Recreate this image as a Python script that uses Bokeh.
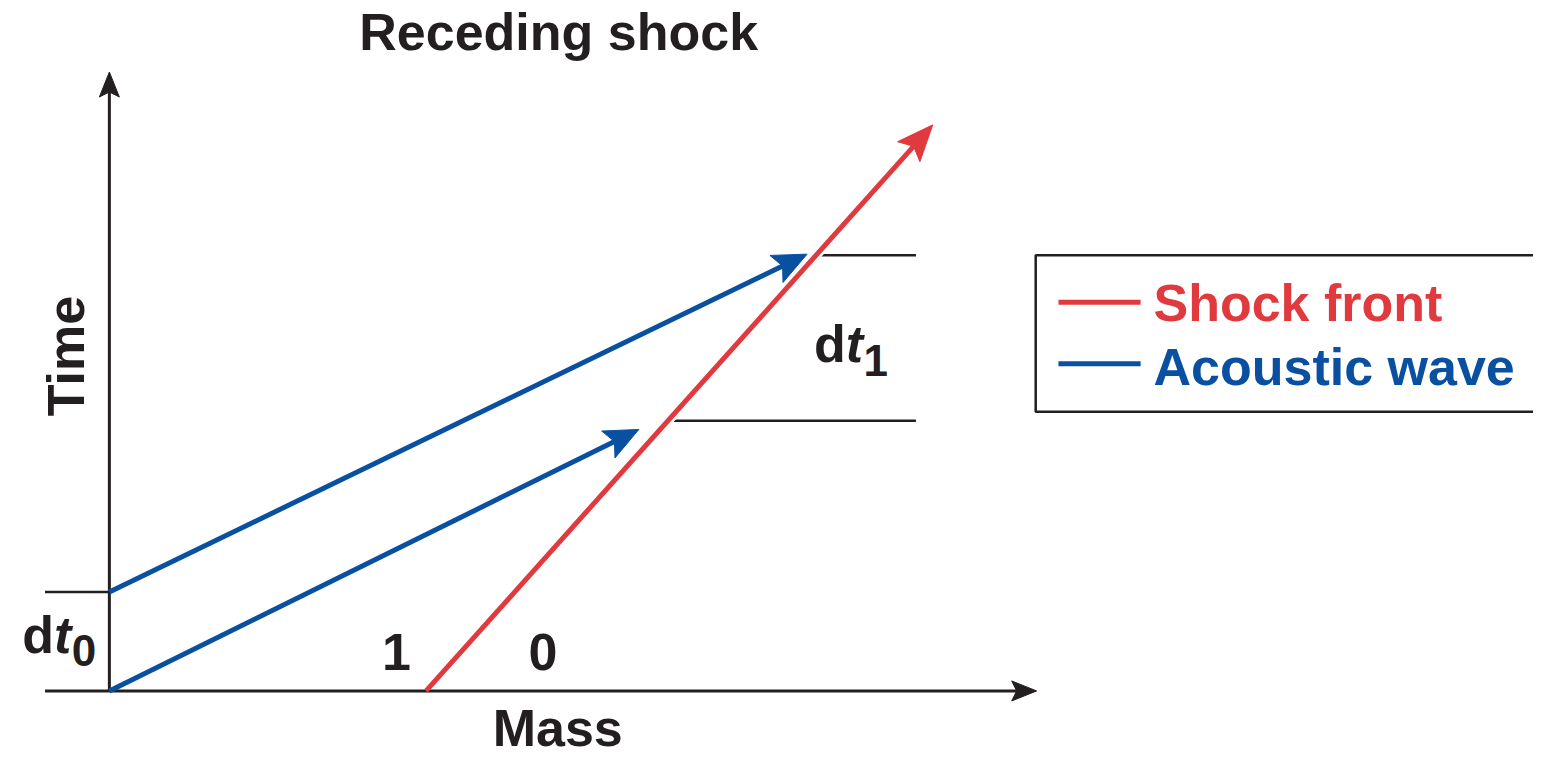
import math
from bokeh.plotting import figure
from bokeh.models import Range1d
from bokeh.core.properties import value
from bokeh.embed import file_html
from bokeh.resources import INLINE

# ---------------- data (schematic units: mass, time) ----------------
shock_mass = [3.20, 8.32]
shock_time = [0.00, 5.78]

wave_mass_start = [0.00, 0.00]
wave_time_start = [0.00, 1.01]
wave_mass_end = [5.35, 7.05]
wave_time_end = [2.67, 4.46]

dt0_time = 1.01
dt1_times = [2.76, 4.45]
dt1_mass_start = [5.64, 7.14]
dt1_mass_end = [8.15, 8.15]

axis_mass_min = -0.65
axis_mass_max = 9.37
axis_time_max = 6.32

region_labels = ["1", "0"]
region_mass = [2.90, 4.38]

series_names = ["Shock front", "Acoustic wave"]
series_colors = ["#e03a3f", "#0a50a0"]

INK = "#231f20"
FONT = value("Liberation Sans")

W, H = 1533, 758
X0, X1 = -1.10, 14.39
Y0, Y1 = -0.69, 7.05
SX = W / (X1 - X0)
SY = H / (Y1 - Y0)

p = figure(width=W, height=H,
           x_range=Range1d(X0, X1), y_range=Range1d(Y0, Y1),
           x_axis_type=None, y_axis_type=None,
           toolbar_location=None, output_backend="svg",
           min_border=0, outline_line_color=None)


def arrow_head(xt, yt, xe, ye, length, width, notch=0.8):
    """Return patch xs, ys of a notched arrow head at (xe, ye) and the notch point."""
    dx, dy = (xe - xt) * SX, (ye - yt) * SY
    n = math.hypot(dx, dy)
    ux, uy = dx / n, dy / n
    px, py = -uy, ux
    bx, by = -ux * length, -uy * length
    pts = [(0, 0),
           (bx + px * width / 2, by + py * width / 2),
           (-ux * length * notch, -uy * length * notch),
           (bx - px * width / 2, by - py * width / 2)]
    xs = [xe + a / SX for a, b in pts]
    ys = [ye + b / SY for a, b in pts]
    return xs, ys, xs[2], ys[2]


def draw_arrow(xt, yt, xe, ye, color, lw, length, width):
    hx, hy, nx, ny = arrow_head(xt, yt, xe, ye, length, width)
    p.line([xt, nx], [yt, ny], line_color=color, line_width=lw)
    p.patch(hx, hy, fill_color=color, line_color=color, line_width=1)
    return nx, ny


# ---- axes with arrows ----
draw_arrow(axis_mass_min, 0.0, axis_mass_max, 0.0, INK, 3, 25, 20)
draw_arrow(0.0, 0.0, 0.0, axis_time_max, INK, 3, 25, 20)

# ---- dt0 / dt1 reference lines ----
p.segment(x0=[axis_mass_min], y0=[dt0_time], x1=[0.0], y1=[dt0_time],
          line_color=INK, line_width=2.5)
p.segment(x0=dt1_mass_start, y0=dt1_times, x1=dt1_mass_end, y1=dt1_times,
          line_color=INK, line_width=2.5)

# ---- acoustic waves ----
for i in range(len(wave_mass_start)):
    draw_arrow(wave_mass_start[i], wave_time_start[i], wave_mass_end[i], wave_time_end[i],
               series_colors[1], 5, 34, 30)

# ---- shock front (white halo where it crosses the waves) ----
hx, hy, nx, ny = arrow_head(shock_mass[0], shock_time[0], shock_mass[1], shock_time[1], 36, 30)
f = 0.3
p.line([shock_mass[0] + f * (nx - shock_mass[0]), nx],
       [shock_time[0] + f * (ny - shock_time[0]), ny],
       line_color="white", line_width=10)
draw_arrow(shock_mass[0], shock_time[0], shock_mass[1], shock_time[1],
           series_colors[0], 5, 36, 30)

FS, FSS = 52, 44
OFF, OFFS = -round(0.37 * FS), -round(0.37 * FSS)
bold = dict(text_font=FONT, text_font_style="bold", text_color=INK)

# title
p.text(x=[4.54], y=[6.53], text=["Receding shock"], text_font_size=f"{FS}px",
       text_align="center", text_baseline="alphabetic", y_offset=OFF, **bold)
# axis labels
p.text(x=[4.53], y=[-0.575], text=["Mass"], text_font_size=f"{FS}px",
       text_align="center", text_baseline="alphabetic", y_offset=OFF, **bold)
p.text(x=[-0.25], y=[3.42], text=["Time"], angle=math.pi / 2, text_font_size=f"{FS}px",
       text_align="center", text_baseline="alphabetic", x_offset=OFF, **bold)
# region labels
p.text(x=region_mass, y=[0.20, 0.20], text=region_labels, text_font_size=f"{FS}px",
       text_align="center", text_baseline="alphabetic", y_offset=OFF, **bold)

# dt0 label
p.text(x=[-0.88], y=[0.38], text=["d"], text_font_size=f"{FS}px",
       text_align="left", text_baseline="alphabetic", y_offset=OFF, **bold)
p.text(x=[-0.56], y=[0.38], text=["t"], text_font_size=f"{FS}px",
       text_font=FONT, text_font_style="bold italic", text_color=INK,
       text_align="left", text_baseline="alphabetic", y_offset=OFF)
p.text(x=[-0.38], y=[0.25], text=["0"], text_font_size=f"{FSS}px",
       text_align="left", text_baseline="alphabetic", y_offset=OFFS, **bold)

# dt1 label
p.text(x=[7.12], y=[3.35], text=["d"], text_font_size=f"{FS}px",
       text_align="left", text_baseline="alphabetic", y_offset=OFF, **bold)
p.text(x=[7.44], y=[3.35], text=["t"], text_font_size=f"{FS}px",
       text_font=FONT, text_font_style="bold italic", text_color=INK,
       text_align="left", text_baseline="alphabetic", y_offset=OFF)
p.text(x=[7.62], y=[3.21], text=["1"], text_font_size=f"{FSS}px",
       text_align="left", text_baseline="alphabetic", y_offset=OFFS, **bold)

# ---- legend (drawn manually for coloured labels) ----
p.quad(left=[9.36], right=[14.8], top=[4.45], bottom=[2.85],
       fill_color=None, line_color=INK, line_width=2.5)
p.segment(x0=[9.59, 9.59], y0=[3.97, 3.34], x1=[10.42, 10.42], y1=[3.97, 3.34],
          line_color=series_colors, line_width=5)
p.text(x=[10.55, 10.55], y=[3.77, 3.11], text=series_names, text_color=series_colors,
       text_font=FONT, text_font_style="bold", text_font_size=f"{FS}px",
       text_align="left", text_baseline="alphabetic", y_offset=OFF)

open("out.html", "w").write(file_html(p, INLINE))
